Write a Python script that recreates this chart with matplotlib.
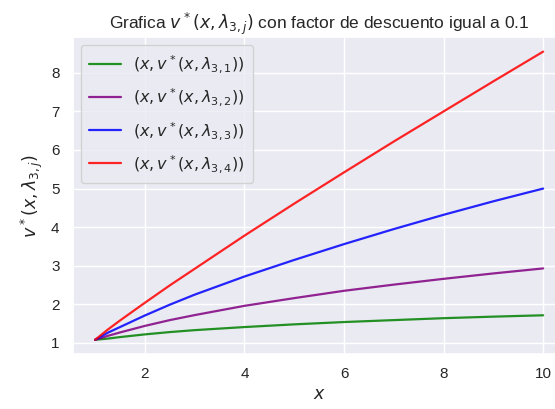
import matplotlib
matplotlib.use("Agg")
import matplotlib.pyplot as plt
import seaborn as sns

sns.set_theme(style="darkgrid")
plt.rcParams["font.family"] = ["Liberation Sans", "DejaVu Sans"]

x = [1, 1.25, 1.5, 2, 2.5, 3, 4, 5, 6, 7, 8, 9, 10]
v_l31 = [1.08, 1.11, 1.15, 1.22, 1.28, 1.33, 1.41, 1.48, 1.54, 1.59, 1.64, 1.68, 1.715]
v_l32 = [1.08, 1.18, 1.27, 1.44, 1.59, 1.72, 1.96, 2.16, 2.35, 2.51, 2.66, 2.80, 2.93]
v_l33 = [1.08, 1.26, 1.41, 1.71, 1.99, 2.25, 2.72, 3.15, 3.56, 3.95, 4.32, 4.67, 5.0]
v_l34 = [1.08, 1.34, 1.58, 2.04, 2.49, 2.92, 3.78, 4.61, 5.42, 6.22, 7.0, 7.78, 8.55]

series = [v_l31, v_l32, v_l33, v_l34]
colors = ["green", "purple", "blue", "red"]
labels = [r"$(x, v^*(x, \lambda_{3,%d}))$" % j for j in range(1, 5)]

fig = plt.figure(figsize=(5.55, 4.09), dpi=100)
ax = fig.add_axes([0.131, 0.134, 0.888, 0.775])

for ys, c, lab in zip(series, colors, labels):
    ax.plot(x, ys, color=c, lw=1.6, alpha=0.85, label=lab)

ax.set_title(r"Grafica $v^*(x,\lambda_{3,j})$ con factor de descuento igual a 0.1",
             fontsize=12.5)
ax.set_xlabel(r"$x$", fontsize=12.5)
ax.set_ylabel(r"$v^*(x,\lambda_{3,j})$", fontsize=12.5)
ax.tick_params(labelsize=11)
ax.legend(loc="upper left", fontsize=11.5, labelspacing=0.7, borderpad=0.5)

fig.savefig("out.png", dpi=100)
